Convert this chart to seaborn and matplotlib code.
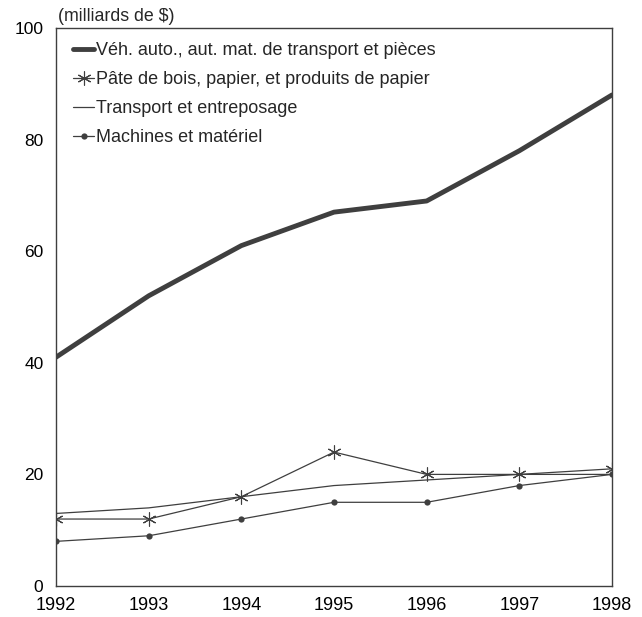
import matplotlib
matplotlib.use("Agg")
import matplotlib.pyplot as plt
import seaborn as sns
import pandas as pd

years = [1992, 1993, 1994, 1995, 1996, 1997, 1998]
auto = [41, 52, 61, 67, 69, 78, 88]
papier = [12, 12, 16, 24, 20, 20, 21]
transport = [13, 14, 16, 18, 19, 20, 20]
machines = [8, 9, 12, 15, 15, 18, 20]
labels = ["Véh. auto., aut. mat. de transport et pièces",
          "Pâte de bois, papier, et produits de papier",
          "Transport et entreposage",
          "Machines et matériel"]

sns.set_style("white")
plt.rcParams['font.family'] = ['Liberation Sans', 'DejaVu Sans']

fig = plt.figure(figsize=(6.42, 6.17), dpi=100)
ax = fig.add_axes([56/642, 31/617, (612-56)/642, (586-28)/617])

col = "#3f3f3f"
df = pd.DataFrame({"year": years, "auto": auto, "papier": papier,
                   "transport": transport, "machines": machines})
sns.lineplot(data=df, x="year", y="auto", ax=ax, color=col, lw=3.5, label=labels[0])
sns.lineplot(data=df, x="year", y="papier", ax=ax, color=col, lw=0.9, marker=(6, 2, 0),
             markersize=10, markeredgewidth=0.8, markeredgecolor=col, label=labels[1])
sns.lineplot(data=df, x="year", y="transport", ax=ax, color=col, lw=0.9, label=labels[2])
sns.lineplot(data=df, x="year", y="machines", ax=ax, color=col, lw=0.9, marker="o",
             markersize=4.5, markeredgewidth=0, label=labels[3])

ax.set_xlim(1992, 1998)
ax.set_ylim(0, 100)
ax.set_xticks(years)
ax.set_yticks([0, 20, 40, 60, 80, 100])
ax.set_xlabel("")
ax.set_ylabel("")
ax.tick_params(axis="y", length=0, labelsize=12.5, colors="black", pad=9)
ax.tick_params(axis="x", length=0, labelsize=13, colors="black", pad=8)
for s in ax.spines.values():
    s.set_color(col)
    s.set_linewidth(1.0)
ax.text(0.003, 1.006, "(milliards de $)", transform=ax.transAxes, fontsize=12.8,
        ha="left", va="bottom")
leg = ax.legend(loc="upper left", frameon=False, fontsize=13, handlelength=1.2,
                handletextpad=0.1, labelspacing=0.66, borderaxespad=0.0,
                bbox_to_anchor=(0.017, 0.987))
fig.savefig("out.png", dpi=100)
